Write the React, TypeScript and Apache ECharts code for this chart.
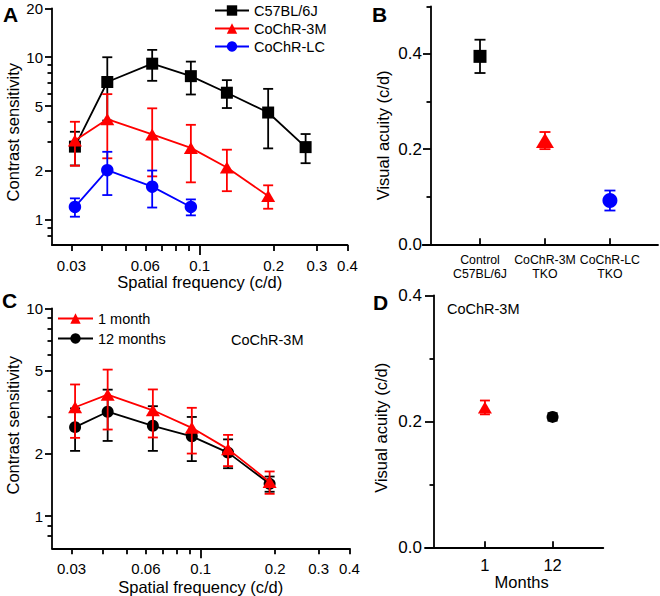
import { useEffect, useRef } from 'react';
import * as echarts from 'echarts';

// ---------- Panel A: contrast sensitivity vs spatial frequency ----------
const freqA = [0.031, 0.042, 0.064, 0.092, 0.129, 0.19, 0.27];
const c57Mean = [2.82, 7.04, 9.13, 7.65, 6.05, 4.57, 2.8];
const c57Sem = [0.66, 2.96, 1.97, 1.75, 1.18, 1.82, 0.57];
const freq3M = [0.031, 0.042, 0.064, 0.092, 0.129, 0.19];
const cochr3mMean = [3.08, 4.16, 3.35, 2.77, 2.1, 1.4];
const cochr3mSem = [0.93, 1.77, 1.5, 1.07, 0.6, 0.23];
const freqLC = [0.031, 0.042, 0.064, 0.092];
const cochrLCMean = [1.2, 2.02, 1.6, 1.2];
const cochrLCSem = [0.155, 0.6, 0.41, 0.135];

const freqTicksMinor = [0.03, 0.04, 0.05, 0.06, 0.07, 0.08, 0.09, 0.2, 0.3, 0.4];
const freqTicksMajor = [0.1];
const freqTickLabels = [0.03, 0.06, 0.1, 0.2, 0.3, 0.4];
const csTickLabelsA = [1, 2, 5, 10, 20];
const csTickLabelsC = [1, 2, 5, 10];
const csMinorTicks = [0.8, 0.9, 3, 4, 6, 7, 8, 9];

// ---------- Panel B: visual acuity by group ----------
const groupsB = ['Control\nC57BL/6J', 'CoChR-3M\nTKO', 'CoChR-LC\nTKO'];
const acuityB = [0.395, 0.218, 0.092];
const acuitySemB = [0.035, 0.018, 0.021];
const acuityTicksB = [0, 0.2, 0.4];
const acuityMinorB = [0.1, 0.3, 0.5];

// ---------- Panel C: CoChR-3M at 1 and 12 months ----------
const freqC = [0.031, 0.042, 0.064, 0.092, 0.129, 0.19];
const month1Mean = [3.34, 3.84, 3.23, 2.66, 2.1, 1.46];
const month1Sem = [0.96, 1.23, 0.84, 0.66, 0.36, 0.18];
const month12Mean = [2.68, 3.18, 2.72, 2.42, 2.02, 1.43];
const month12Sem = [0.62, 0.88, 0.66, 0.58, 0.32, 0.12];

// ---------- Panel D: visual acuity by age ----------
const monthsD = ['1', '12'];
const acuityD = [0.222, 0.207];
const acuitySemD = [0.011, 0.006];
const acuityTicksD = [0, 0.2, 0.4];
const acuityMinorD = [0.1, 0.3];

const FONT = '"Liberation Sans", Arial, Helvetica, sans-serif';
const BLACK = '#000000';
const RED = '#ff0000';
const BLUE = '#0000ff';
const LW = 1.8;
const AX = { color: BLACK, width: LW };

const fmtNum = (v: number) => String(parseFloat(Number(v).toPrecision(4)));

// error bars: colour may be a single colour or one per point
function errBars(xAxisIndex: number, yAxisIndex: number, xs: number[], means: number[], sems: number[], colors: string[], cap: number, z: number) {
  return {
    type: 'custom',
    xAxisIndex,
    yAxisIndex,
    z,
    silent: true,
    data: xs.map((x, i) => [x, means[i], sems[i]]),
    encode: { x: 0, y: 1 },
    renderItem: (p: any, api: any) => {
      const x = api.value(0);
      const m = api.value(1);
      const e = api.value(2);
      const hi = api.coord([x, m + e]);
      const lo = api.coord([x, m - e]);
      const color = colors[p.dataIndex % colors.length];
      const st = { stroke: color, lineWidth: LW };
      const h = cap / 2;
      return {
        type: 'group',
        children: [
          { type: 'line', shape: { x1: hi[0], y1: hi[1], x2: lo[0], y2: lo[1] }, style: st },
          { type: 'line', shape: { x1: hi[0] - h, y1: hi[1], x2: hi[0] + h, y2: hi[1] }, style: st },
          { type: 'line', shape: { x1: lo[0] - h, y1: lo[1], x2: lo[0] + h, y2: lo[1] }, style: st },
        ],
      };
    },
  };
}

function lineSeries(name: string, xAxisIndex: number, yAxisIndex: number, xs: number[], ys: number[], color: string, symbol: string, size: any, z: number) {
  return {
    type: 'line',
    name,
    xAxisIndex,
    yAxisIndex,
    z,
    data: xs.map((x, i) => [x, ys[i]]),
    symbol,
    symbolSize: size,
    showAllSymbol: true,
    lineStyle: { color, width: LW },
    itemStyle: { color, borderWidth: 0, opacity: 1 },
    emphasis: { disabled: true },
  };
}

const tickLabelStyle = (size: number, margin: number) => ({
  show: true,
  color: BLACK,
  fontFamily: FONT,
  fontSize: size,
  margin,
});

const nameStyle = (padding: number[]) => ({
  color: BLACK,
  fontFamily: FONT,
  fontSize: 16.5,
  padding,
});

function buildOption() {
  const grids = [
    { left: 52, top: 8.3, width: 295.5, height: 236.7 },
    { left: 422.7, top: 6.4, width: 235.3, height: 237.9 },
    { left: 52, top: 308.3, width: 297.5, height: 240 },
    { left: 425, top: 295.3, width: 178.3, height: 252 },
  ].map((g) => ({ ...g, containLabel: false, outerBoundsMode: 'none' }));

  const logFreqMain = (gridIndex: number, nameGap: number) => ({
    type: 'log',
    logBase: 10,
    gridIndex,
    min: 0.025,
    max: 0.4,
    position: 'bottom',
    axisLine: { show: true, onZero: false, lineStyle: AX },
    axisTick: { show: true, inside: false, length: 6, lineStyle: AX, customValues: freqTicksMinor },
    axisLabel: { ...tickLabelStyle(15, 13), customValues: freqTickLabels, formatter: fmtNum },
    splitLine: { show: false },
    minorTick: { show: false },
    name: 'Spatial frequency (c/d)',
    nameLocation: 'middle',
    nameGap,
    nameMoveOverlap: false,
    nameTextStyle: nameStyle([0, 0, 0, 0]),
  });
  const logFreqMajor = (gridIndex: number) => ({
    type: 'log',
    logBase: 10,
    gridIndex,
    min: 0.025,
    max: 0.4,
    position: 'bottom',
    axisLine: { show: false, onZero: false },
    axisTick: { show: true, inside: false, length: 10, lineStyle: AX, customValues: freqTicksMajor },
    axisLabel: { show: false },
    splitLine: { show: false },
  });
  const logCsMain = (gridIndex: number, max: number, labels: number[], padding: number[]) => ({
    type: 'log',
    logBase: 10,
    gridIndex,
    min: 0.7,
    max,
    position: 'left',
    axisLine: { show: true, onZero: false, lineStyle: AX },
    axisTick: { show: true, inside: false, length: 7, lineStyle: AX, customValues: labels },
    axisLabel: { ...tickLabelStyle(15, 9), customValues: labels, formatter: fmtNum },
    splitLine: { show: false },
    minorTick: { show: false },
    name: 'Contrast sensitivity',
    nameLocation: 'middle',
    nameGap: 31,
    nameMoveOverlap: false,
    nameTextStyle: nameStyle(padding),
  });
  const logCsMinor = (gridIndex: number, max: number) => ({
    type: 'log',
    logBase: 10,
    gridIndex,
    min: 0.7,
    max,
    position: 'left',
    axisLine: { show: false, onZero: false },
    axisTick: { show: true, inside: false, length: 4.5, lineStyle: AX, customValues: csMinorTicks },
    axisLabel: { show: false },
    splitLine: { show: false },
  });
  const acuityMain = (gridIndex: number, max: number, labels: number[], offset: number, tickLen: number, margin: number, nameGap: number, padding: number[]) => ({
    type: 'value',
    gridIndex,
    min: 0,
    max,
    position: 'left',
    offset,
    axisLine: { show: true, onZero: false, lineStyle: AX },
    axisTick: { show: true, inside: false, length: tickLen, lineStyle: AX, customValues: labels },
    axisLabel: { ...tickLabelStyle(17, margin), customValues: labels, formatter: (v: number) => Number(v).toFixed(1) },
    splitLine: { show: false },
    name: 'Visual acuity (c/d)',
    nameLocation: 'middle',
    nameGap,
    nameMoveOverlap: false,
    nameTextStyle: nameStyle(padding),
  });
  const acuityMinor = (gridIndex: number, max: number, ticks: number[], offset: number) => ({
    type: 'value',
    gridIndex,
    min: 0,
    max,
    position: 'left',
    offset,
    axisLine: { show: false, onZero: false },
    axisTick: { show: true, inside: false, length: 4.5, lineStyle: AX, customValues: ticks },
    axisLabel: { show: false },
    splitLine: { show: false },
  });

  const xB = groupsB.map((_, i) => i + 1);
  const xD = monthsD.map((_, i) => i + 1);

  const xAxis = [
    logFreqMain(0, 28.5),
    logFreqMajor(0),
    {
      type: 'value',
      gridIndex: 1,
      min: 0.118,
      max: 3.74,
      position: 'bottom',
      axisLine: { show: true, onZero: false, lineStyle: AX },
      axisTick: { show: true, inside: true, length: 6, lineStyle: AX, customValues: xB },
      axisLabel: {
        ...tickLabelStyle(12.3, 8),
        lineHeight: 14.5,
        customValues: xB,
        formatter: (v: number) => groupsB[Math.round(v) - 1] ?? '',
      },
      splitLine: { show: false },
    },
    logFreqMain(2, 30),
    logFreqMajor(2),
    {
      type: 'value',
      gridIndex: 3,
      min: 0.114,
      max: 2.75,
      position: 'bottom',
      axisLine: { show: true, onZero: false, lineStyle: AX },
      axisTick: { show: true, inside: true, length: 6, lineStyle: AX, customValues: xD },
      axisLabel: {
        ...tickLabelStyle(16.5, 9.5),
        customValues: xD,
        formatter: (v: number) => monthsD[Math.round(v) - 1] ?? '',
      },
      splitLine: { show: false },
      name: 'Months',
      nameLocation: 'middle',
      nameGap: 26,
      nameMoveOverlap: false,
      nameTextStyle: nameStyle([0, 0, 0, 15]),
    },
  ];

  const yAxis = [
    logCsMain(0, 20, csTickLabelsA, [0, 11, 0, 0]),
    logCsMinor(0, 20),
    acuityMain(1, 0.5, acuityTicksB, -8.3, 8, 9, 40, [0, 20, 0, 0]),
    acuityMinor(1, 0.5, acuityMinorB, -8.3),
    logCsMain(2, 10, csTickLabelsC, [0, 0, 0, 6]),
    logCsMinor(2, 10),
    acuityMain(3, 0.4, acuityTicksD, -9, 9, 12, 45, [0, 13, 0, 0]),
    acuityMinor(3, 0.4, acuityMinorD, -9),
  ];

  const bColors = [BLACK, RED, BLUE];
  const bSymbols = ['rect', 'triangle', 'circle'];
  const bSizes: any[] = [13, [18, 15], 15];
  const dColors = [RED, BLACK];
  const dSymbols = ['triangle', 'circle'];
  const dSizes: any[] = [[14, 12], 12];

  const series: any[] = [
    // Panel A
    errBars(0, 0, freqA, c57Mean, c57Sem, [BLACK], 10, 2),
    lineSeries('C57BL/6J', 0, 0, freqA, c57Mean, BLACK, 'rect', 12, 3),
    errBars(0, 0, freq3M, cochr3mMean, cochr3mSem, [RED], 10, 4),
    lineSeries('CoChR-3M', 0, 0, freq3M, cochr3mMean, RED, 'triangle', [14, 12], 5),
    errBars(0, 0, freqLC, cochrLCMean, cochrLCSem, [BLUE], 10, 6),
    lineSeries('CoChR-LC', 0, 0, freqLC, cochrLCMean, BLUE, 'circle', 12.5, 7),
    // Panel B
    errBars(2, 2, xB, acuityB, acuitySemB, bColors, 11, 2),
    {
      type: 'scatter',
      xAxisIndex: 2,
      yAxisIndex: 2,
      z: 3,
      data: xB.map((x, i) => ({
        value: [x, acuityB[i]],
        symbol: bSymbols[i],
        symbolSize: bSizes[i],
        itemStyle: { color: bColors[i], opacity: 1 },
      })),
      itemStyle: { opacity: 1 },
      emphasis: { disabled: true },
    },
    // Panel C
    errBars(3, 4, freqC, month12Mean, month12Sem, [BLACK], 10, 2),
    lineSeries('12 months', 3, 4, freqC, month12Mean, BLACK, 'circle', 12, 3),
    errBars(3, 4, freqC, month1Mean, month1Sem, [RED], 10, 4),
    lineSeries('1 month', 3, 4, freqC, month1Mean, RED, 'triangle', [14, 12], 5),
    // Panel D
    errBars(5, 6, xD, acuityD, acuitySemD, dColors, 10, 2),
    {
      type: 'scatter',
      xAxisIndex: 5,
      yAxisIndex: 6,
      z: 3,
      data: xD.map((x, i) => ({
        value: [x, acuityD[i]],
        symbol: dSymbols[i],
        symbolSize: dSizes[i],
        itemStyle: { color: dColors[i], opacity: 1 },
      })),
      itemStyle: { opacity: 1 },
      emphasis: { disabled: true },
    },
  ];

  const legendText = { color: BLACK, fontFamily: FONT, fontSize: 14.5 };

  return {
    animation: false,
    backgroundColor: '#ffffff',
    textStyle: { fontFamily: FONT, color: BLACK },
    grid: grids,
    xAxis,
    yAxis,
    series,
    legend: [
      {
        data: ['C57BL/6J', 'CoChR-3M', 'CoChR-LC'],
        orient: 'vertical',
        left: 214,
        top: 3,
        itemWidth: 34,
        itemHeight: 13,
        itemGap: 3,
        padding: 0,
        selectedMode: false,
        textStyle: legendText,
      },
      {
        data: ['1 month', '12 months'],
        orient: 'vertical',
        left: 57,
        top: 311,
        itemWidth: 35,
        itemHeight: 13,
        itemGap: 5,
        padding: 0,
        selectedMode: false,
        textStyle: legendText,
      },
    ],
    graphic: [
      { type: 'text', left: 3, top: 4, style: { text: 'A', font: `bold 21px ${FONT}`, fill: BLACK } },
      { type: 'text', left: 372, top: 4, style: { text: 'B', font: `bold 21px ${FONT}`, fill: BLACK } },
      { type: 'text', left: 2, top: 290, style: { text: 'C', font: `bold 21px ${FONT}`, fill: BLACK } },
      { type: 'text', left: 373, top: 292, style: { text: 'D', font: `bold 21px ${FONT}`, fill: BLACK } },
      { type: 'text', left: 231, top: 332, style: { text: 'CoChR-3M', font: `14.5px ${FONT}`, fill: BLACK } },
      { type: 'text', left: 447, top: 301, style: { text: 'CoChR-3M', font: `14.5px ${FONT}`, fill: BLACK } },
    ],
  };
}

export default function App() {
  const ref = useRef<HTMLDivElement>(null);
  useEffect(() => {
    if (!ref.current) return;
    const chart = echarts.init(ref.current, null, { renderer: 'svg' });
    chart.setOption(buildOption() as any);
    return () => chart.dispose();
  }, []);
  return (
    <div
      ref={ref}
      style={{ position: 'fixed', left: 0, top: 0, width: 660, height: 596, background: '#ffffff' }}
    />
  );
}
